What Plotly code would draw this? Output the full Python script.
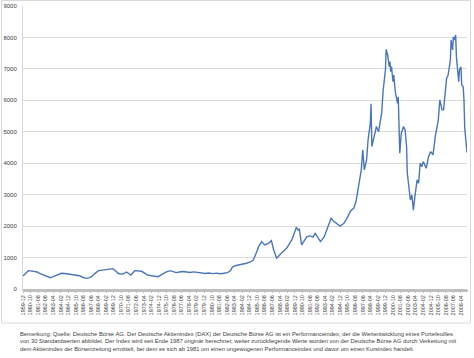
import plotly.graph_objects as go

months = ["1959-12","1960-03","1960-07","1960-10","1961-01","1961-04","1961-07","1961-10",
          "1962-01","1962-05","1962-08","1962-12","1963-03","1963-06","1963-10","1964-03",
          "1964-07","1964-12","1965-04","1965-08","1965-11","1966-03","1966-07","1966-12",
          "1967-03","1967-07","1967-11","1968-04","1968-09","1969-03","1969-07","1969-11",
          "1970-02","1970-06","1970-09","1971-01","1971-05","1971-08","1971-11","1972-04",
          "1972-08","1973-01","1973-04","1973-08","1973-12","1974-04","1974-08","1974-11",
          "1975-03","1975-06","1975-10","1976-03","1976-07","1976-11","1977-03","1977-08",
          "1978-01","1978-05","1978-10","1979-03","1979-08","1980-01","1980-06","1980-11",
          "1981-04","1981-09","1982-02","1982-07","1982-11","1983-01","1983-05","1983-11",
          "1984-03","1984-08","1985-01","1985-05","1985-09","1985-12","1986-04","1986-08",
          "1987-01","1987-05","1987-08","1987-12","1988-06","1989-01","1989-08","1990-02",
          "1990-04","1990-06","1990-09","1991-01","1991-04","1991-08","1991-12","1992-03",
          "1992-07","1992-10","1993-03","1993-09","1993-12","1994-03","1994-08","1994-12",
          "1995-05","1995-09","1996-02","1996-06","1996-09","1997-01","1997-04","1997-06",
          "1997-08","1997-11","1998-01","1998-04","1998-05","1998-06","1998-10","1998-12",
          "1999-03","1999-05","1999-07","1999-09","1999-12","2000-01","2000-03","2000-05",
          "2000-06","2000-07","2000-08","2000-10","2000-11","2001-01","2001-02","2001-04",
          "2001-05","2001-07","2001-09","2001-12","2002-02","2002-04","2002-05","2002-07",
          "2002-09","2002-11","2003-01","2003-03","2003-06","2003-08","2003-10","2003-12",
          "2004-02","2004-06","2004-09","2004-12","2005-03","2005-06","2005-08","2005-10",
          "2005-12","2006-03","2006-05","2006-08","2006-09","2006-11","2007-02","2007-03",
          "2007-05","2007-06","2007-07","2007-09","2007-10","2008-01","2008-02","2008-04",
          "2008-05","2008-07","2008-08","2008-09","2008-10","2008-11","2008-12"]

dax = [415, 500, 583, 575, 570, 563, 540, 500,
       470, 436, 390, 360, 385, 413, 460, 500,
       495, 480, 470, 455, 445, 420, 372, 340,
       355, 392, 490, 583, 600, 615, 625, 647,
       590, 500, 475, 480, 541, 500, 445, 583,
       570, 563, 520, 455, 430, 413, 400, 392,
       450, 500, 545, 583, 560, 520, 540, 555,
       540, 525, 545, 530, 505, 495, 510, 490,
       505, 485, 500, 520, 590, 690, 740, 764,
       800, 818, 860, 923, 1150, 1347, 1506, 1401,
       1454, 1538, 1242, 977, 1136, 1295, 1560, 1964,
       1878, 1900, 1401, 1550, 1665, 1688, 1650, 1771,
       1612, 1506, 1665, 2035, 2248, 2163, 2089, 2003,
       2089, 2248, 2494, 2569, 2781, 3365, 3790, 4427,
       3790, 4108, 4745, 5277, 5890, 4530, 4955, 5165,
       5003, 5270, 5590, 6330, 6965, 7620, 7440, 7070,
       7230, 6910, 7070, 6590, 6805, 6275, 6170, 5905,
       6115, 4315, 4955, 5165, 5060, 4530, 3680, 3310,
       2830, 2990, 2510, 2935, 3470, 3365, 4000, 3890,
       4050, 3840, 4210, 4370, 4265, 4845, 5060, 5380,
       6010, 5695, 5695, 6330, 6700, 6805, 7285, 7920,
       7600, 8020, 7920, 8080, 7390, 6590, 6965, 7070,
       6490, 6435, 6010, 5110, 4845, 4685, 4340]

tick_labels = ["1959-12","1960-10","1961-08","1962-06","1963-04","1964-02","1964-12","1965-10",
               "1966-08","1967-06","1968-04","1969-02","1969-12","1970-10","1971-08","1972-06",
               "1973-04","1974-02","1974-12","1975-10","1976-08","1977-06","1978-04","1979-02",
               "1979-12","1980-10","1981-08","1982-06","1983-04","1984-02","1984-12","1985-10",
               "1986-08","1987-06","1988-04","1989-02","1989-12","1990-10","1991-08","1992-06",
               "1993-04","1994-02","1994-12","1995-10","1996-08","1997-06","1998-04","1999-02",
               "1999-12","2000-10","2001-08","2002-06","2003-04","2004-02","2004-12","2005-10",
               "2006-08","2007-06","2008-04"]

caption = [
    "Bemerkung: Quelle: Deutsche Börse AG. Der Deutsche Aktienindex (DAX) der Deutsche Börse AG ist ein Performanceindex, der die Wertentwicklung eines Portefeuilles",
    "von 30 Standardwerten abbildet. Der Index wird seit Ende 1987 originär berechnet; weiter zurückliegende Werte wurden von der Deutsche Börse AG durch Verkettung mit",
    "dem Aktienindex der Börsenzeitung ermittelt, bei dem es sich ab 1981 um einen ungewogenen Performanceindex und davor um einen Kursindex handelt.",
]

FONT = "Liberation Sans, Arial, sans-serif"

fig = go.Figure()
fig.add_trace(go.Scatter(
    x=[m + "-01" for m in months], y=dax, mode="lines",
    line=dict(color="#4a76b8", width=1.4), hoverinfo="skip", showlegend=False,
))

# plot area: x 23..467 px, y 6..289 px
W, H = 474, 358
L, R, T, B = 23, 7, 6, 69
pw, ph = W - L - R, H - T - B

def px_x(p):
    return (p - L) / pw

def px_y(p):
    return (H - B - p) / ph

shapes = [dict(type="rect", xref="paper", yref="paper",
               x0=px_x(1.5), x1=px_x(470.5), y0=px_y(323), y1=px_y(0.5),
               line=dict(color="#d9d9d9", width=1), layer="below")]

annotations = []
for i, line in enumerate(caption):
    annotations.append(dict(
        xref="paper", yref="paper", x=px_x(18), y=px_y(333.5 + 7.5 * i),
        xanchor="left", yanchor="middle", showarrow=False, text=line,
        font=dict(family=FONT, size=5.8, color="#404040"),
    ))

fig.update_layout(
    width=W, height=H,
    margin=dict(l=L, r=R, t=T, b=B, autoexpand=False),
    paper_bgcolor="white", plot_bgcolor="white",
    font=dict(family=FONT, color="#595959"),
    shapes=shapes, annotations=annotations,
    xaxis=dict(
        type="date", range=["1959-12-01", "2008-12-01"], automargin=False,
        tickmode="array", tickvals=[t + "-01" for t in tick_labels], ticktext=tick_labels,
        tickangle=-90, tickfont=dict(size=5.5, color="#404040"),
        showgrid=False, showline=True, linecolor="#bfbfbf", linewidth=1,
        ticks="outside", ticklen=3, tickcolor="#bfbfbf",
        minor=dict(tickmode="linear", tick0="1959-12-01", dtick="M1",
                   ticks="outside", ticklen=2, tickcolor="#bfbfbf", showgrid=False),
        zeroline=False,
    ),
    yaxis=dict(
        range=[0, 9000], dtick=1000, tickformat="d", automargin=False,
        tickfont=dict(size=6, color="#404040"),
        gridcolor="#d9d9d9", gridwidth=1,
        showline=True, linecolor="#d9d9d9", linewidth=1,
        zeroline=False, ticks="", ticklabelstandoff=4,
    ),
)

fig.write_html(
    "out.html",
    config={"displayModeBar": False, "staticPlot": True},
    post_script="document.body.style.margin='0';document.body.style.padding='0';",
)
